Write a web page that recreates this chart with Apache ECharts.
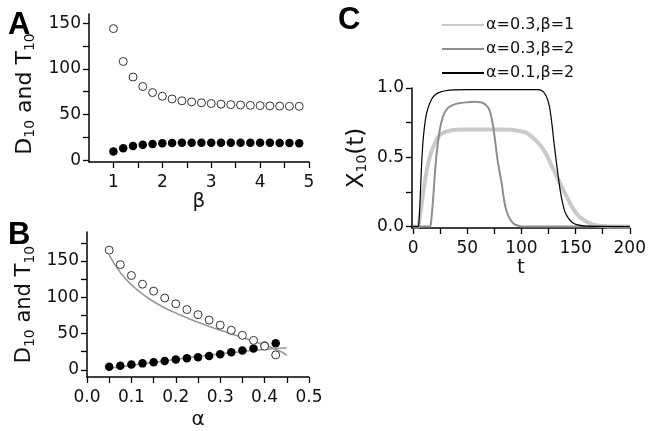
<!DOCTYPE html>
<html>
<head>
<meta charset="utf-8">
<script src="https://cdn.jsdelivr.net/npm/echarts@6/dist/echarts.min.js"></script>
<style>
html,body{margin:0;padding:0;background:#fff}
#chart{width:649px;height:431px}
</style>
</head>
<body>
<div id="chart"></div>
<script>
// panel A: D10 / T10 against beta
var betaVals = [1, 1.2, 1.4, 1.6, 1.8, 2, 2.2, 2.4, 2.6, 2.8, 3, 3.2, 3.4, 3.6, 3.8, 4, 4.2, 4.4, 4.6, 4.8];
var aOpen = [144, 108, 91, 80.6, 74, 70, 67, 65, 63.8, 62.8, 62, 61.3, 60.8, 60.4, 60, 59.7, 59.4, 59.2, 59, 59];
var aFilled = [9.4, 13, 15.6, 17, 17.8, 18.5, 18.8, 19, 19, 19, 19, 19, 19, 19, 19, 19, 19, 18.8, 18.7, 18.6];

// panel B: D10 / T10 against alpha, points and fitted curves
var alphaVals = [0.05, 0.075, 0.1, 0.125, 0.15, 0.175, 0.2, 0.225, 0.25, 0.275, 0.3, 0.325, 0.35, 0.375, 0.4, 0.425];
var bOpen = [165, 145, 130, 118, 108.5, 99, 91, 83, 76, 68.5, 61.5, 54.5, 47.5, 40.5, 32.5, 20.5];
var bFilled = [4.3, 5.4, 7.2, 8.8, 10.3, 12.1, 14, 15.8, 17.2, 19, 21.5, 24, 26.5, 29.4, 33, 36.6];
var alphaFit = [0.05, 0.075, 0.1, 0.135, 0.17, 0.21, 0.25, 0.285, 0.32, 0.36, 0.4, 0.435, 0.45];
var bFitDown = [158, 134, 117, 100, 87, 75.5, 65.5, 57.5, 50.5, 42.5, 34, 25.5, 20];
var bFitUp = [2, 4, 6, 9, 11.8, 15.2, 18.3, 21, 23.3, 25.8, 28, 29.7, 30.3];

// panel C: X10(t) time courses
var tLight = [0, 4.5, 6, 7.7, 9, 10.7, 12, 13.8, 15, 16.8, 18.5, 20, 21.5, 23, 25, 27.6, 31, 35, 40, 47, 60, 80, 90, 95, 100, 105, 111, 117, 123, 129, 135, 141.5, 147.6, 153.7, 158, 163, 168, 172, 181, 200];
var xLight = [0, 0, 0.06, 0.145, 0.23, 0.31, 0.38, 0.45, 0.49, 0.54, 0.575, 0.6, 0.625, 0.645, 0.662, 0.676, 0.687, 0.694, 0.698, 0.7, 0.7, 0.7, 0.698, 0.694, 0.687, 0.675, 0.64, 0.59, 0.52, 0.42, 0.325, 0.22, 0.13, 0.07, 0.045, 0.024, 0.012, 0.006, 0, 0];
var tMid = [0, 15.3, 16.8, 18.4, 19.9, 21.4, 23, 24.5, 26, 29, 32, 36, 42, 50, 57, 62, 65, 67.5, 70, 72, 74, 76, 78, 80, 82, 84, 86, 89, 93, 98, 105, 200];
var xMid = [0, 0, 0.05, 0.19, 0.36, 0.5, 0.61, 0.69, 0.75, 0.82, 0.855, 0.875, 0.89, 0.897, 0.9, 0.898, 0.89, 0.875, 0.85, 0.8, 0.72, 0.6, 0.48, 0.39, 0.3, 0.19, 0.12, 0.06, 0.02, 0.005, 0, 0];
var tDark = [0, 4.5, 5.5, 6.5, 7.7, 9, 10.5, 12, 14, 16, 18, 21, 25, 30, 38, 50, 116, 120, 122, 124, 126, 128, 130, 132, 134, 136, 138, 140, 143, 147, 152, 160, 200];
var xDark = [0, 0, 0.04, 0.2, 0.42, 0.6, 0.72, 0.8, 0.86, 0.9, 0.93, 0.955, 0.97, 0.98, 0.986, 0.988, 0.988, 0.975, 0.955, 0.92, 0.86, 0.75, 0.61, 0.48, 0.36, 0.25, 0.17, 0.11, 0.065, 0.03, 0.012, 0.003, 0];

var legendNames = ['\u03b1=0.3,\u03b2=1', '\u03b1=0.3,\u03b2=2', '\u03b1=0.1,\u03b2=2'];

var FONT = 'DejaVu Sans';

function zip(xs, ys){
	var out = [];
	for (var i = 0; i < xs.length; i++) out.push([xs[i], ys[i]]);
	return out;
}

function axisBase(extra){
	var base = {
		type: 'value',
		splitLine: {show: false},
		axisLine: {show: true, onZero: false, lineStyle: {color: '#000', width: 1.5}},
		axisTick: {show: true, inside: false, length: 6, lineStyle: {color: '#000', width: 1.3}},
		axisLabel: {color: '#111', fontSize: 17, fontFamily: FONT, margin: 8},
		nameLocation: 'middle',
		nameTextStyle: {color: '#111', fontFamily: FONT, fontSize: 20}
	};
	for (var k in extra) {
		if (typeof extra[k] === 'object' && base[k] && !Array.isArray(extra[k])) {
			for (var j in extra[k]) base[k][j] = extra[k][j];
		} else {
			base[k] = extra[k];
		}
	}
	return base;
}

var subRich = {s: {fontSize: 14, fontFamily: FONT, color: '#111', padding: [10, 0, 0, 0]}};

var chart = echarts.init(document.getElementById('chart'));

var letterStyle = {fontSize: 31, fontWeight: 'bold', color: '#000', fontFamily: 'Liberation Sans'};
var openStyle = {color: '#fff', borderColor: '#333', borderWidth: 1, opacity: 1};
var filledStyle = {color: '#000', opacity: 1};

var option = {
	backgroundColor: '#fff',
	animation: false,
	textStyle: {fontFamily: FONT},
	title: [
		{text: 'A', left: 3, top: 5, textStyle: letterStyle},
		{text: 'B', left: 3, top: 215, textStyle: letterStyle},
		{text: 'C', left: 333, top: 0, textStyle: letterStyle}
	],
	legend: {
		data: legendNames,
		orient: 'vertical',
		left: 436,
		top: 12,
		itemWidth: 42,
		itemHeight: 14,
		itemGap: 8,
		selectedMode: false,
		itemStyle: {opacity: 0},
		textStyle: {fontSize: 16, color: '#111', fontFamily: FONT, padding: [0, 0, 0, -3]}
	},
	grid: [
		{left: 89, top: 14, width: 220, height: 148},
		{left: 87, top: 232, width: 222, height: 148},
		{left: 412, top: 88, width: 219, height: 140}
	],
	xAxis: [
		axisBase({gridIndex: 0, min: 0.5, max: 5, name: '\u03b2', nameGap: 30,
			axisTick: {customValues: [1, 1.5, 2, 2.5, 3, 3.5, 4, 4.5, 5]},
			axisLabel: {customValues: [1, 2, 3, 4, 5], margin: 12}}),
		axisBase({gridIndex: 1, min: 0, max: 0.5, name: '\u03b1', nameGap: 33,
			axisTick: {customValues: [0, 0.05, 0.1, 0.15, 0.2, 0.25, 0.3, 0.35, 0.4, 0.45, 0.5]},
			axisLabel: {customValues: [0, 0.1, 0.2, 0.3, 0.4, 0.5], margin: 12, formatter: function(v){ return v.toFixed(1); }}}),
		axisBase({gridIndex: 2, min: -1, max: 200, name: 't', nameGap: 30,
			axisTick: {customValues: [0, 25, 50, 75, 100, 125, 150, 175, 200]},
			axisLabel: {customValues: [0, 50, 100, 150, 200], margin: 12}})
	],
	yAxis: [
		axisBase({gridIndex: 0, min: -2, max: 160, name: 'D{s|10} and T{s|10}', nameGap: 52,
			nameTextStyle: {fontSize: 22, rich: subRich, padding: [0, 12, 0, 0]},
			axisTick: {customValues: [0, 25, 50, 75, 100, 125, 150]},
			axisLabel: {customValues: [0, 50, 100, 150]}}),
		axisBase({gridIndex: 1, min: -10, max: 190, name: 'D{s|10} and T{s|10}', nameGap: 50,
			nameTextStyle: {fontSize: 21, rich: subRich},
			axisTick: {customValues: [0, 25, 50, 75, 100, 125, 150, 175]},
			axisLabel: {customValues: [0, 50, 100, 150]}}),
		axisBase({gridIndex: 2, min: -0.01, max: 1, name: 'X{s|10}(t)', nameGap: 43,
			nameTextStyle: {fontSize: 23, rich: subRich},
			axisTick: {customValues: [0, 0.25, 0.5, 0.75, 1]},
			axisLabel: {customValues: [0, 0.5, 1], formatter: function(v){ return v.toFixed(1); }}})
	],
	series: [
		{type: 'scatter', xAxisIndex: 0, yAxisIndex: 0, data: zip(betaVals, aFilled), symbol: 'circle', symbolSize: 8.5,
			itemStyle: filledStyle, z: 3},
		{type: 'scatter', xAxisIndex: 0, yAxisIndex: 0, data: zip(betaVals, aOpen), symbol: 'circle', symbolSize: 8,
			itemStyle: openStyle, z: 4},

		{type: 'line', xAxisIndex: 1, yAxisIndex: 1, data: zip(alphaFit, bFitDown), symbol: 'none', smooth: 0.5,
			lineStyle: {color: '#999', width: 1.6}, z: 2},
		{type: 'line', xAxisIndex: 1, yAxisIndex: 1, data: zip(alphaFit, bFitUp), symbol: 'none', smooth: 0.5,
			lineStyle: {color: '#999', width: 1.6}, z: 2},
		{type: 'scatter', xAxisIndex: 1, yAxisIndex: 1, data: zip(alphaVals, bFilled), symbol: 'circle', symbolSize: 8.5,
			itemStyle: filledStyle, z: 3},
		{type: 'scatter', xAxisIndex: 1, yAxisIndex: 1, data: zip(alphaVals, bOpen), symbol: 'circle', symbolSize: 8,
			itemStyle: openStyle, z: 4},

		{type: 'line', name: legendNames[0], xAxisIndex: 2, yAxisIndex: 2, data: zip(tLight, xLight), symbol: 'none',
			smooth: 0.3, lineStyle: {color: '#cacaca', width: 4}, itemStyle: {color: '#cacaca'}},
		{type: 'line', name: legendNames[1], xAxisIndex: 2, yAxisIndex: 2, data: zip(tMid, xMid), symbol: 'none',
			smooth: 0.3, lineStyle: {color: '#8e8e8e', width: 2}, itemStyle: {color: '#8e8e8e'}},
		{type: 'line', name: legendNames[2], xAxisIndex: 2, yAxisIndex: 2, data: zip(tDark, xDark), symbol: 'none',
			smooth: 0.3, lineStyle: {color: '#000', width: 1.2}, itemStyle: {color: '#555'}}
	]
};

chart.setOption(option);
</script>
</body>
</html>
